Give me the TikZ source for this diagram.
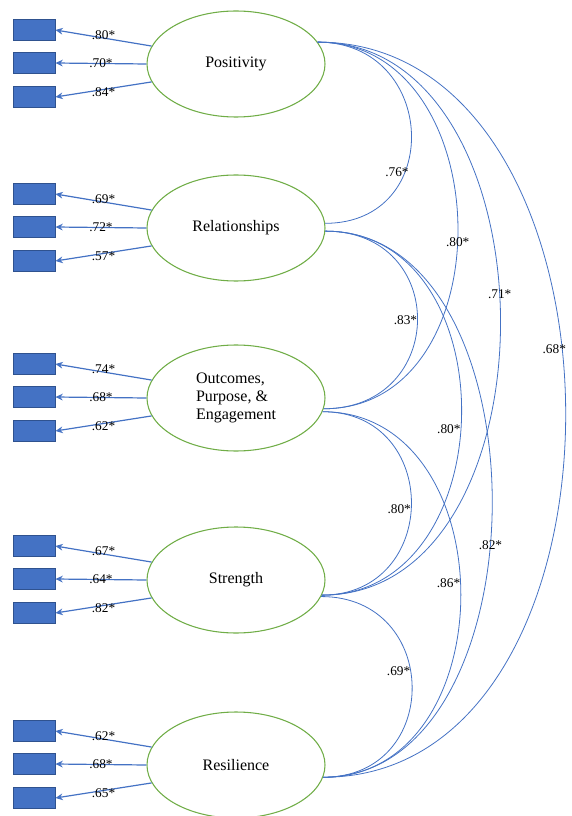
\documentclass[tikz,border=0pt]{standalone}
\usepackage{fontspec}
\setmainfont{Liberation Serif}
\usetikzlibrary{shapes.geometric,arrows.meta}
\definecolor{wordblue}{HTML}{4472C4}
\definecolor{boxedge}{HTML}{2F528F}
\definecolor{wordgreen}{HTML}{70AD47}
\begin{document}
\begin{tikzpicture}[x=0.75pt,y=-0.75pt,
    factor/.style={ellipse,draw=wordgreen,line width=0.8pt,minimum width=133.5pt,
        minimum height=79.5pt,inner sep=0pt,align=left,font=\fontsize{12}{13.8}\selectfont},
    item/.style={rectangle,draw=boxedge,fill=wordblue,line width=0.6pt,
        minimum width=31.5pt,minimum height=15.75pt,inner sep=0pt},
    load/.style={draw=wordblue,line width=0.9pt,-{Stealth[length=5.5pt,width=5pt]}},
    corr/.style={draw=wordblue,line width=0.6pt},
    coef/.style={font=\fontsize{10}{12}\selectfont,inner sep=0pt}]
    \useasboundingbox (0,0) rectangle (571,816);
    % factors
    \node[factor] (pos) at (236,64) {Positivity};
    \node[factor] (rel) at (236,228) {Relationships};
    \node[factor] (ope) at (236,398) {Outcomes,\\Purpose, \&\\Engagement};
    \node[factor] (str) at (236,580) {Strength};
    \node[factor] (res) at (236,765) {Resilience};
    % indicators
    \foreach \f/\y/\a/\b/\c in {pos/64/.80*/.70*/.84*, rel/228/.69*/.72*/.57*,
        ope/398/.74*/.68*/.62*, str/580/.67*/.64*/.82*, res/765/.62*/.68*/.65*}{
        \node[item] (\f1) at (34,\y-34) {};
        \node[item] (\f2) at (34,\y-1) {};
        \node[item] (\f3) at (34,\y+33) {};
        \draw[load] (\f.168) -- (\f1.east) node[coef,midway,yshift=2pt] {\a};
        \draw[load] (\f.180) -- (\f2.east) node[coef,midway] {\b};
        \draw[load] (\f.192) -- (\f3.east) node[coef,midway,yshift=-2pt] {\c};
    }
    % correlations
    \draw[corr] (pos.15) .. controls +(120,0) and +(120,0) .. (rel.3)
        node[coef,pos=.65,anchor=east,xshift=3pt] {.76*};
    \draw[corr] (pos.15) .. controls +(183,0) and +(183,0) .. (ope.-7)
        node[coef,pos=.53] {.80*};
    \draw[corr] (pos.15) .. controls +(241,0) and +(241,0) .. (str.-10)
        node[coef,pos=.47] {.71*};
    \draw[corr] (pos.15) .. controls +(327,0) and +(327,0) .. (res.-8)
        node[coef,pos=.445,xshift=-6pt] {.68*};
    \draw[corr] (rel.-2) .. controls +(124,0) and +(124,0) .. (ope.-7)
        node[coef,pos=.5,anchor=east] {.83*};
    \draw[corr] (rel.-2) .. controls +(184,0) and +(184,0) .. (str.-10)
        node[coef,pos=.53,anchor=east] {.80*};
    \draw[corr] (rel.-2) .. controls +(224,0) and +(224,0) .. (res.-8)
        node[coef,pos=.55] {.82*};
    \draw[corr] (ope.-9) .. controls +(119,0) and +(119,0) .. (str.-10)
        node[coef,pos=.52,anchor=east] {.80*};
    \draw[corr] (ope.-9) .. controls +(184,0) and +(184,0) .. (res.-8)
        node[coef,pos=.48,anchor=east] {.86*};
    \draw[corr] (str.-11) .. controls +(120,0) and +(120,0) .. (res.-8)
        node[coef,pos=.44,anchor=east] {.69*};
\end{tikzpicture}
\end{document}
